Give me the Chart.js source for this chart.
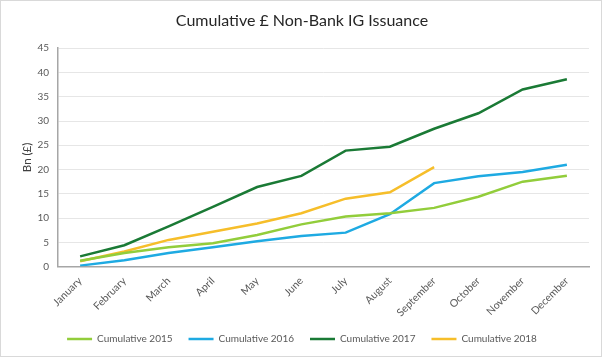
<!DOCTYPE html>
<html>
<head>
<meta charset="utf-8">
<script src="https://cdn.jsdelivr.net/npm/chart.js@4.4.0/dist/chart.umd.min.js"></script>
<style>
html,body{margin:0;padding:0;background:#fff;}
#wrap{position:absolute;left:0;top:0;width:602px;height:357px;box-sizing:border-box;border:1px solid #d9d9d9;background:#fff;}
canvas{display:block;}
</style>
</head>
<body>
<div id="wrap"><canvas id="c" width="600" height="355"></canvas></div>
<script>
const months = ["January","February","March","April","May","June","July","August","September","October","November","December"];
const cum2015 = [1.2, 2.8, 4.0, 4.8, 6.5, 8.7, 10.3, 11.0, 12.1, 14.4, 17.5, 18.7];
const cum2016 = [0.2, 1.3, 2.8, 4.0, 5.2, 6.3, 7.0, 10.8, 17.2, 18.6, 19.5, 21.0];
const cum2017 = [2.1, 4.4, 8.3, 12.3, 16.4, 18.7, 23.9, 24.7, 28.4, 31.6, 36.5, 38.6];
const cum2018 = [1.1, 3.1, 5.5, 7.2, 8.9, 11.0, 14.0, 15.3, 20.5];
const seriesNames = ["Cumulative 2015","Cumulative 2016","Cumulative 2017","Cumulative 2018"];
const yTicks = [0,5,10,15,20,25,30,35,40,45];

const colors = ["#92CD3B","#1EAAE2","#1A7A35","#F6BE2A"];
const allData = [cum2015, cum2016, cum2017, cum2018];

const legendLift = {
  id: 'legendLift',
  afterLayout(chart) {
    const lg = chart.legend;
    if (lg) { lg.top -= 9; lg.bottom -= 9; }
  }
};

const chart = new Chart(document.getElementById('c'), {
  type: 'line',
  data: {
    labels: months,
    datasets: allData.map((d, i) => ({
      label: seriesNames[i],
      data: d,
      borderColor: colors[i],
      backgroundColor: colors[i],
      borderWidth: 2.5,
      pointRadius: 0,
      tension: 0,
      fill: false
    }))
  },
  options: {
    responsive: false,
    animation: false,
    layout: { padding: { left: 14, right: 12, top: 4, bottom: 3 } },
    plugins: {
      title: {
        display: true,
        text: "Cumulative £ Non-Bank IG Issuance",
        color: "#262626",
        font: { family: "Lato", size: 16, weight: "normal" },
        padding: { top: 6, bottom: 18 }
      },
      legend: {
        position: 'bottom',
        labels: {
          usePointStyle: true,
          pointStyle: 'line',
          pointStyleWidth: 25,
          boxWidth: 25,
          color: "#595959",
          font: { family: "Lato", size: 10 },
          padding: 16
        }
      },
      tooltip: { enabled: false }
    },
    scales: {
      x: {
        offset: true,
        grid: { display: false, drawTicks: false },
        border: { display: true, color: "#a6a6a6", width: 1.5 },
        ticks: {
          color: "#595959",
          font: { family: "Lato", size: 10.5 },
          maxRotation: 45, minRotation: 45,
          padding: 8,
          autoSkip: false
        }
      },
      y: {
        min: 0, max: 45,
        afterBuildTicks(scale) { scale.ticks = yTicks.map(v => ({ value: v })); },
        afterFit(scale) { scale.width = 43; },
        grid: { color: "#e6e6e6", drawTicks: false },
        border: { display: true, color: "#a6a6a6", width: 1.5 },
        title: {
          display: true,
          text: "Bn (£)",
          color: "#404040",
          font: { family: "Lato", size: 11.5 },
          padding: { top: 5, bottom: 0 }
        },
        ticks: {
          color: "#595959",
          font: { family: "Lato", size: 10 },
          padding: 9
        }
      }
    }
  },
  plugins: [legendLift]
});

const lg = chart.legend;
const origFit = lg.fit.bind(lg);
lg.fit = function () { origFit(); this.height -= 10; };
chart.update();
</script>
</body>
</html>
